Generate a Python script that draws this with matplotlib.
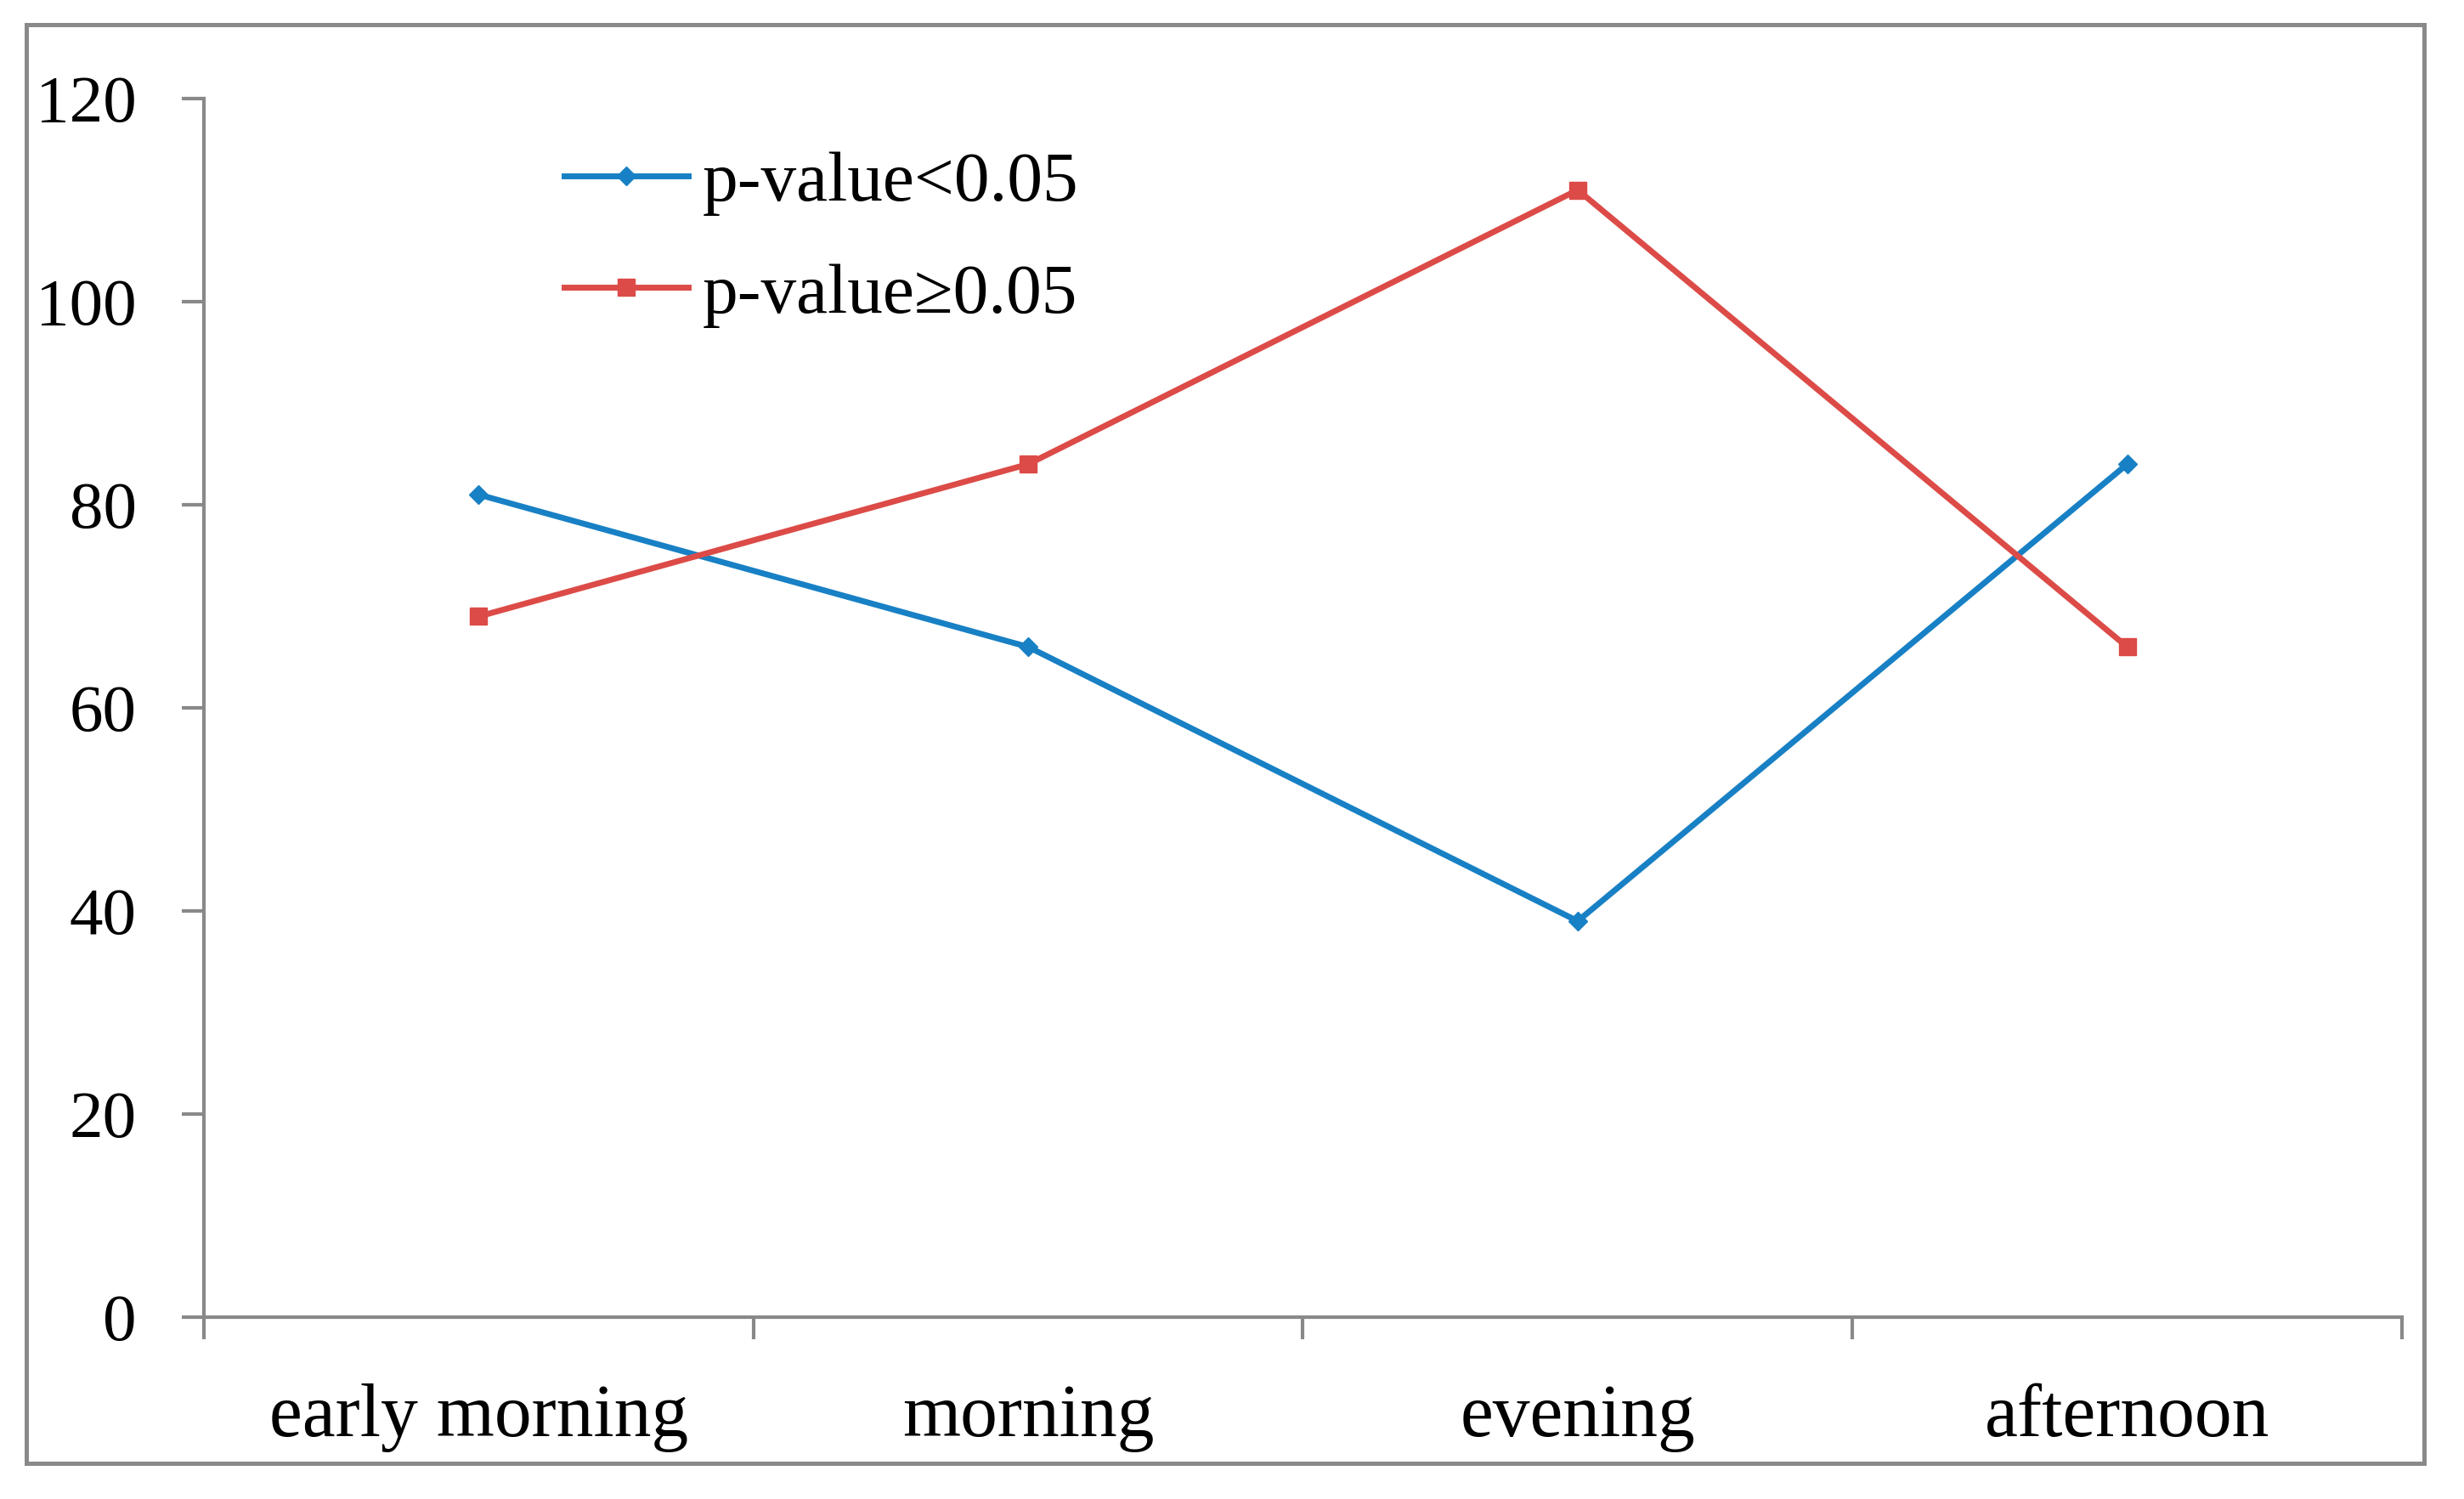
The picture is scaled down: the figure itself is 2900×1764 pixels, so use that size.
import matplotlib
matplotlib.use("Agg")
import matplotlib.pyplot as plt
from matplotlib.patches import Rectangle

# data
categories = ["early morning", "morning", "evening", "afternoon"]
p_low = [81, 66, 39, 84]     # p-value<0.05
p_high = [69, 84, 111, 66]   # p-value>=0.05
y_ticks = [0, 20, 40, 60, 80, 100, 120]

blue = "#1880C4"
red = "#DC4B47"
grey = "#898989"

plt.rcParams['font.family'] = ['Liberation Serif', 'DejaVu Serif']

W, H = 2900, 1764
fig = plt.figure(figsize=(W / 100, H / 100), dpi=100)

# outer frame around the whole chart
fig.patches.append(Rectangle((31 / W, 1 - 1722 / H), (2853 - 31) / W, (1722 - 29) / H,
                             transform=fig.transFigure, fill=False,
                             edgecolor=grey, linewidth=3.6))

ax = fig.add_axes([240 / W, 1 - 1550 / H, (2827 - 240) / W, (1550 - 116) / H])

x = [i + 0.5 for i in range(len(categories))]
ax.plot(x, p_low, color=blue, linewidth=5, marker='D', markersize=11,
        label="p-value<0.05")
ax.plot(x, p_high, color=red, linewidth=5, marker='s', markersize=14,
        label="p-value\u22650.05")

ax.set_xlim(0, len(categories))
ax.set_ylim(0, 120)

ax.set_yticks(y_ticks)
ax.set_yticklabels([str(v) for v in y_ticks])
ax.set_xticks(range(len(categories) + 1))
ax.set_xticklabels([""] * (len(categories) + 1))
ax.set_xticks(x, minor=True)
ax.set_xticklabels(categories, minor=True)

for s in ['top', 'right']:
    ax.spines[s].set_visible(False)
for s in ['left', 'bottom']:
    ax.spines[s].set_color(grey)
    ax.spines[s].set_linewidth(3)

ax.tick_params(axis='both', which='major', direction='out', length=19, width=3,
               color=grey, labelsize=57)
ax.tick_params(axis='y', pad=38)
ax.tick_params(axis='x', which='minor', length=0, labelsize=63, pad=56)

leg = ax.legend(loc='upper left', bbox_to_anchor=(664 / W, 1 - 178 / H),
                bbox_transform=fig.transFigure, frameon=False, fontsize=60,
                handlelength=1.75, handletextpad=0.2, labelspacing=0.66,
                borderpad=0, borderaxespad=0)

fig.savefig("out.png", dpi=100)
